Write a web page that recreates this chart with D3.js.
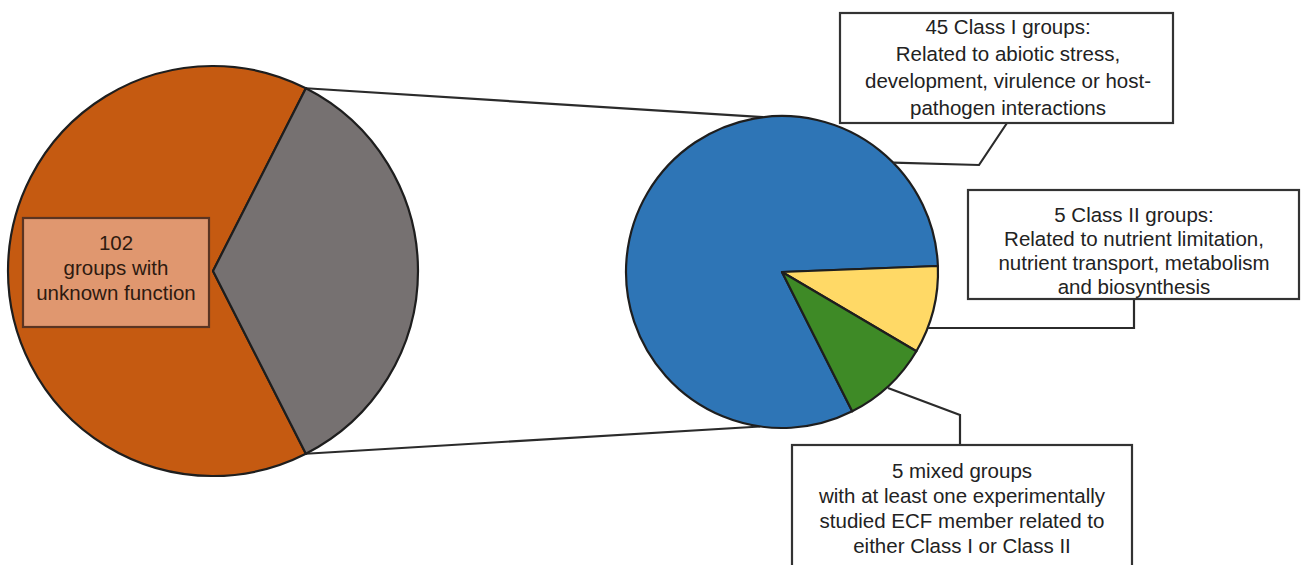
<!DOCTYPE html>
<html>
<head>
<meta charset="utf-8">
<script src="https://cdn.jsdelivr.net/npm/d3@7/dist/d3.min.js"></script>
<style>
  html, body { margin: 0; padding: 0; background: #ffffff; overflow: hidden; }
  svg { display: block; }
  text { font-family: "Liberation Sans", Arial, sans-serif; }
</style>
</head>
<body>
<svg id="chart" width="1301" height="565"></svg>
<script>
// ---------- data ----------
const overviewCategories = ["unknown function", "known function"];
const overviewValues = [102, 55];
const overviewColors = ["#C55A11", "#767171"];

const detailCategories = ["Class I", "Class II", "mixed"];
const detailValues = [45, 5, 5];
const detailColors = ["#2E75B6", "#FFD966", "#3E8A26"];

const unknownLabel = ["102", "groups with", "unknown function"];
const classILabel = ["45 Class I groups:", "Related to abiotic stress,", "development, virulence or host-", "pathogen interactions"];
const classIILabel = ["5 Class II groups:", "Related to nutrient limitation,", "nutrient transport, metabolism", "and biosynthesis"];
const mixedLabel = ["5 mixed groups", "with at least one experimentally", "studied ECF member related to", "either Class I or Class II"];

// ---------- layout ----------
const svg = d3.select("#chart");
const deg = Math.PI / 180;
const pt = (c, r, a) => [c.x + r * Math.sin(a), c.y - r * Math.cos(a)];

// left (overview) pie
const L = { x: 213, y: 271, r: 205 };
const total = d3.sum(overviewValues);
const knownAngle = overviewValues[1] / total * 2 * Math.PI;
const leftStart = Math.PI / 2 + knownAngle / 2;
const leftPie = d3.pie().sort(null).startAngle(leftStart).endAngle(leftStart + 2 * Math.PI);
const leftArcs = leftPie(overviewValues);
const leftArc = d3.arc().innerRadius(0).outerRadius(L.r);

// right (detail) pie
const R = { x: 782, y: 272, r: 156 };
const dTotal = d3.sum(detailValues);
const classIIStart = 87.8 * deg;
const rightStart = classIIStart - detailValues[0] / dTotal * 2 * Math.PI;
const rightPie = d3.pie().sort(null).startAngle(rightStart).endAngle(rightStart + 2 * Math.PI);
const rightArcs = rightPie(detailValues);
const rightArc = d3.arc().innerRadius(0).outerRadius(R.r);

// connector lines between pies
const knownSlice = leftArcs[1];
const lineColor = "#2b2b2b";
const connectors = [
  [pt(L, L.r, knownSlice.startAngle), pt(R, R.r, -7 * deg)],
  [pt(L, L.r, knownSlice.endAngle), pt(R, R.r, 188 * deg)]
];
svg.selectAll("line.conn").data(connectors).enter().append("line")
  .attr("class", "conn")
  .attr("x1", d => d[0][0]).attr("y1", d => d[0][1])
  .attr("x2", d => d[1][0]).attr("y2", d => d[1][1])
  .attr("stroke", lineColor).attr("stroke-width", 2.2);

// draw pies
svg.append("g").attr("transform", `translate(${L.x},${L.y})`)
  .selectAll("path").data(leftArcs).enter().append("path")
  .attr("d", leftArc)
  .attr("fill", (d, i) => overviewColors[i])
  .attr("stroke", "#1e1e1e").attr("stroke-width", 2.2).attr("stroke-linejoin", "round");

svg.append("g").attr("transform", `translate(${R.x},${R.y})`)
  .selectAll("path").data(rightArcs).enter().append("path")
  .attr("d", rightArc)
  .attr("fill", (d, i) => detailColors[i])
  .attr("stroke", "#1e1e1e").attr("stroke-width", 2.2).attr("stroke-linejoin", "round");

// leader lines
const line = d3.line();
const leaders = [
  [pt(R, R.r, 45.5 * deg), [979, 165], [1007, 123]],
  [[928, 328], [1134, 328], [1134, 299]],
  [[888, 388], [960, 415], [960, 445]]
];
svg.selectAll("path.leader").data(leaders).enter().append("path")
  .attr("class", "leader")
  .attr("d", d => line(d))
  .attr("fill", "none").attr("stroke", lineColor).attr("stroke-width", 2.2);

// label boxes
function box(x0, y0, x1, y1, fill, stroke, lines, cx, firstBase, step, color) {
  svg.append("rect")
    .attr("x", x0).attr("y", y0).attr("width", x1 - x0).attr("height", y1 - y0)
    .attr("fill", fill).attr("stroke", stroke).attr("stroke-width", 2.2);
  const t = svg.append("text")
    .attr("text-anchor", "middle")
    .attr("font-size", 20.5)
    .attr("fill", color);
  t.selectAll("tspan").data(lines).enter().append("tspan")
    .attr("x", cx).attr("y", (d, i) => firstBase + i * step)
    .text(d => d);
}

box(23, 218, 209, 327, "#E0976F", "#5A3422", unknownLabel, 116, 250, 25, "#2e1a10");
box(840, 13, 1173, 123, "#ffffff", "#333333", classILabel, 1008, 34, 27, "#222222");
box(968, 190, 1299, 299, "#ffffff", "#333333", classIILabel, 1134, 222, 24, "#222222");
box(792, 445, 1132, 590, "#ffffff", "#333333", mixedLabel, 962, 478, 25, "#222222");
</script>
</body>
</html>
